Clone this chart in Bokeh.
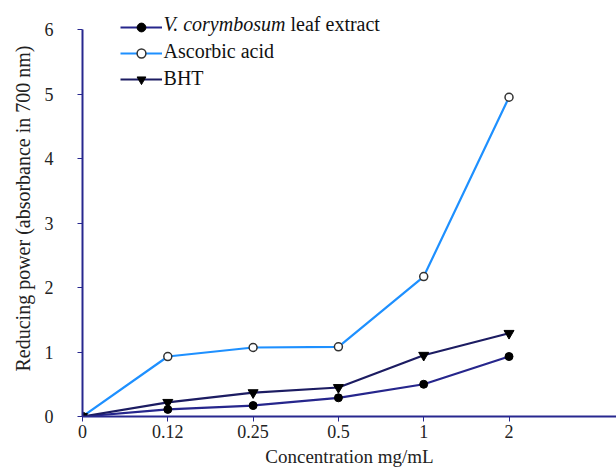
from bokeh.plotting import figure
from bokeh.models import Range1d, FixedTicker, Legend, LegendItem, ColumnDataSource
from bokeh.core.properties import value
from bokeh.embed import file_html
from bokeh.resources import INLINE

conc_labels = ["0", "0.12", "0.25", "0.5", "1", "2"]
leaf = [0, 0.11, 0.17, 0.29, 0.50, 0.93]
ascorbic = [0, 0.93, 1.07, 1.08, 2.17, 4.95]
bht = [0, 0.22, 0.37, 0.45, 0.95, 1.29]
y_ticks = [0, 1, 2, 3, 4, 5, 6]
legend_labels = [("V. corymbosum", "leaf extract"), ("Ascorbic acid", ""), ("BHT", "")]

xpos = list(range(len(conc_labels)))
src = ColumnDataSource(dict(x=xpos, leaf=leaf, asc=ascorbic, bht=bht))

FONT = "Liberation Serif"
AXIS_COLOR = "#28288f"

p = figure(width=616, height=471, output_backend="svg", toolbar_location=None,
           x_range=Range1d(0, 6.26), y_range=Range1d(0, 6.45),
           min_border_left=82, min_border_bottom=55, min_border_top=0, min_border_right=0)
p.outline_line_color = None
p.xgrid.visible = False
p.ygrid.visible = False
p.background_fill_color = "white"

# lines
l_leaf = p.line("x", "leaf", source=src, line_color="#26268c", line_width=2.2)
l_asc = p.line("x", "asc", source=src, line_color="#1e90ff", line_width=2.2)
l_bht = p.line("x", "bht", source=src, line_color="#1c1c62", line_width=2.2)

m_leaf = p.scatter("x", "leaf", source=src, marker="circle", size=8,
                   fill_color="black", line_color="black")
m_asc = p.scatter("x", "asc", source=src, marker="circle", size=8,
                  fill_color="white", line_color="#333333", line_width=1.5)
m_bht = p.scatter("x", "bht", source=src, marker="inverted_triangle", size=10,
                  fill_color="black", line_color="black")

# axes
xa = p.xaxis[0]
xa.ticker = FixedTicker(ticks=xpos)
xa.major_label_overrides = {i: lab for i, lab in zip(xpos, conc_labels)}
xa.axis_label = "Concentration mg/mL"
ya = p.yaxis[0]
ya.ticker = FixedTicker(ticks=y_ticks)
ya.bounds = (0, 6)
ya.axis_label = "Reducing power (absorbance in 700 nm)"

for ax in (xa, ya):
    ax.axis_line_color = AXIS_COLOR
    ax.axis_line_width = 2
    ax.major_tick_line_color = AXIS_COLOR
    ax.major_tick_line_width = 1
    ax.major_tick_out = 5
    ax.major_tick_in = 0
    ax.minor_tick_line_color = None
    ax.major_label_text_font = FONT
    ax.major_label_text_font_size = "18px"
    ax.major_label_text_color = "#222222"
    ax.axis_label_text_font = FONT
    ax.axis_label_text_font_style = "normal"
    ax.axis_label_text_color = "#222222"

xa.major_label_standoff = 3
xa.axis_label_text_font_size = "19px"
xa.axis_label_standoff = 5
ya.major_label_standoff = 24
ya.axis_label_text_font_size = "20px"
ya.axis_label_standoff = 8

legend = Legend(items=[
    LegendItem(label=" ", renderers=[l_leaf, m_leaf]),
    LegendItem(label=" ", renderers=[l_asc, m_asc]),
    LegendItem(label=" ", renderers=[l_bht, m_bht]),
], location=(38, 326))
legend.padding = 0
legend.margin = 0
legend.spacing = 4
legend.glyph_width = 42
legend.glyph_height = 22
legend.label_standoff = 1
legend.label_text_font = FONT
legend.label_text_font_size = "20px"
legend.border_line_color = None
legend.background_fill_alpha = 0
p.add_layout(legend)

# legend texts (first one partly italic)
row_y = [6.093, 5.674, 5.256]
for (main, rest), yy in zip(legend_labels, row_y):
    p.text(x=[0.95], y=[yy], text=[main], text_font=value(FONT),
           text_font_size="20px",
           text_font_style="italic" if rest else "normal",
           text_baseline="middle", text_color="#111111")
    if rest:
        p.text(x=[0.95], y=[yy], x_offset=127, text=[rest], text_font=value(FONT),
               text_font_size="20px", text_baseline="middle", text_color="#111111")

open("out.html", "w").write(file_html(p, INLINE))
